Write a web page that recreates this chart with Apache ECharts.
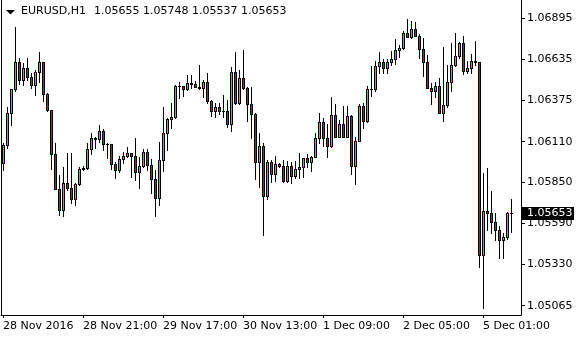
<!DOCTYPE html>
<html>
<head>
<meta charset="utf-8">
<style>
html,body{margin:0;padding:0;background:#fff;}
#chart{width:580px;height:340px;}
</style>
<script src="https://cdn.jsdelivr.net/npm/echarts@6/dist/echarts.min.js"></script>
</head>
<body>
<div id="chart"></div>
<script>
// EURUSD H1 bars, 28 Nov 2016 01:00 -> 5 Dec 2016 08:00
const opens = [
1.05973,1.06089,1.06291,1.06444,1.06616,1.06503,1.06578,1.06524,1.06471,1.06556,
1.06616,1.06412,1.06312,1.06030,1.05809,1.05675,1.05845,1.05813,1.05743,1.05841,
1.05934,1.05945,1.06064,1.06132,1.06125,1.06180,1.06095,1.06093,1.05966,1.05930,
1.05998,1.06019,1.06036,1.06021,1.05919,1.05955,1.06043,1.05962,1.05871,1.05749,
1.05994,1.06164,1.06253,1.06266,1.06465,1.06463,1.06444,1.06482,1.06476,1.06460,
1.06450,1.06488,1.06371,1.06308,1.06329,1.06308,1.06305,1.06221,1.06552,1.06355,
1.06514,1.06454,1.06348,1.06285,1.05983,1.06083,1.05766,1.05979,1.05902,1.05966,
1.05955,1.05861,1.05955,1.05893,1.05934,1.05947,1.06004,1.05983,1.06015,1.06132,
1.06234,1.06132,1.06085,1.06280,1.06142,1.06221,1.06142,1.06274,1.05957,1.06115,
1.06338,1.06244,1.06444,1.06448,1.06593,1.06616,1.06582,1.06616,1.06635,1.06694,
1.06705,1.06801,1.06779,1.06826,1.06786,1.06699,1.06620,1.06454,1.06435,1.06465,
1.06295,1.06344,1.06492,1.06599,1.06656,1.06741,1.06562,1.06582,1.06624,1.06615,
1.05388,1.05669,1.05658,1.05597,1.05547,1.05484,1.05505,1.05655
];
const highs = [
1.06100,1.06333,1.06448,1.06841,1.06642,1.06610,1.06642,1.06546,1.06567,1.06684,
1.06620,1.06422,1.06315,1.06100,1.05898,1.05951,1.06036,1.06036,1.05845,1.05951,
1.05955,1.06100,1.06164,1.06138,1.06217,1.06191,1.06102,1.06095,1.05983,1.06019,
1.06046,1.06078,1.06040,1.06132,1.06015,1.06062,1.06062,1.06000,1.05930,1.06110,
1.06333,1.06259,1.06355,1.06471,1.06492,1.06467,1.06535,1.06535,1.06499,1.06599,
1.06503,1.06546,1.06376,1.06355,1.06355,1.06408,1.06376,1.06584,1.06681,1.06567,
1.06694,1.06460,1.06458,1.06290,1.06164,1.06100,1.05994,1.05994,1.06019,1.05976,
1.05994,1.05989,1.05983,1.05989,1.06036,1.06006,1.06030,1.06017,1.06164,1.06291,
1.06259,1.06221,1.06397,1.06350,1.06248,1.06338,1.06338,1.06280,1.06138,1.06350,
1.06355,1.06463,1.06593,1.06624,1.06680,1.06635,1.06635,1.06690,1.06763,1.06726,
1.06817,1.06892,1.06879,1.06871,1.06796,1.06769,1.06663,1.06486,1.06492,1.06514,
1.06712,1.06599,1.06741,1.06805,1.06747,1.06784,1.06626,1.06669,1.06752,1.06618,
1.05909,1.05941,1.05796,1.05654,1.05575,1.05526,1.05660,1.05748
];
const lows = [
1.05930,1.06068,1.06217,1.06435,1.06478,1.06471,1.06503,1.06450,1.06408,1.06492,
1.06371,1.06305,1.05934,1.05807,1.05643,1.05637,1.05802,1.05718,1.05707,1.05834,
1.05930,1.05934,1.06032,1.06068,1.06110,1.06057,1.06006,1.05934,1.05877,1.05919,
1.05973,1.06015,1.05887,1.05866,1.05813,1.05951,1.05930,1.05781,1.05639,1.05707,
1.05925,1.06057,1.06196,1.06259,1.06387,1.06403,1.06440,1.06450,1.06456,1.06445,
1.06397,1.06355,1.06274,1.06269,1.06287,1.06269,1.06206,1.06180,1.06351,1.06351,
1.06444,1.06244,1.06134,1.05871,1.05820,1.05516,1.05745,1.05855,1.05860,1.05947,
1.05855,1.05855,1.05845,1.05877,1.05881,1.05883,1.05947,1.05925,1.06011,1.06100,
1.06085,1.06015,1.06078,1.06138,1.06138,1.06138,1.06138,1.05902,1.05839,1.06113,
1.06196,1.06238,1.06401,1.06433,1.06550,1.06546,1.06550,1.06599,1.06605,1.06652,
1.06699,1.06777,1.06771,1.06782,1.06642,1.06529,1.06450,1.06348,1.06393,1.06290,
1.06244,1.06333,1.06433,1.06593,1.06642,1.06541,1.06546,1.06550,1.06599,1.05310,
1.05049,1.05547,1.05526,1.05484,1.05367,1.05367,1.05488,1.05537
];
const closes = [
1.06089,1.06291,1.06444,1.06616,1.06503,1.06578,1.06524,1.06471,1.06556,1.06616,
1.06412,1.06312,1.06030,1.05809,1.05675,1.05845,1.05813,1.05743,1.05841,1.05934,
1.05945,1.06064,1.06132,1.06125,1.06180,1.06095,1.06093,1.05966,1.05930,1.05998,
1.06019,1.06036,1.06021,1.05919,1.05955,1.06043,1.05962,1.05871,1.05749,1.05994,
1.06164,1.06253,1.06266,1.06465,1.06463,1.06444,1.06482,1.06476,1.06460,1.06450,
1.06488,1.06371,1.06308,1.06329,1.06308,1.06305,1.06221,1.06552,1.06355,1.06514,
1.06454,1.06348,1.06285,1.05983,1.06083,1.05766,1.05979,1.05902,1.05966,1.05955,
1.05861,1.05955,1.05893,1.05934,1.05947,1.06004,1.05983,1.06015,1.06132,1.06234,
1.06132,1.06085,1.06280,1.06142,1.06221,1.06142,1.06274,1.05957,1.06115,1.06338,
1.06244,1.06444,1.06448,1.06593,1.06616,1.06582,1.06616,1.06635,1.06694,1.06705,
1.06801,1.06779,1.06826,1.06786,1.06699,1.06620,1.06454,1.06435,1.06465,1.06295,
1.06344,1.06492,1.06599,1.06656,1.06741,1.06562,1.06582,1.06624,1.06620,1.05388,
1.05669,1.05658,1.05597,1.05547,1.05484,1.05505,1.05654,1.05653
];
// time-axis labels, one every 20 bars
const timeLabels = ['28 Nov 2016','28 Nov 21:00','29 Nov 17:00','30 Nov 13:00','1 Dec 09:00','2 Dec 05:00','5 Dec 01:00'];
const labelEvery = 20;
// price-axis tick labels
const priceTicks = [1.05065,1.05330,1.05590,1.05850,1.06110,1.06375,1.06635,1.06895];
const lastPrice = 1.05653;
const symbolTitle = 'EURUSD,H1';
const ohlcTitle = '1.05655 1.05748 1.05537 1.05653';
const totalSlots = 130;

const FONT = 'DejaVu Sans';
const BULL = '#00ff00';
const BEAR = '#ff0000';
const categories = [];
for (let i = 0; i < totalSlots; i++) categories.push(String(i));
const bars = opens.map((o, i) => [i, o, closes[i], lows[i], highs[i]]);

function px(x, y, w, h, color, z2) {
  return {type: 'rect', z2: z2, shape: {x: x, y: y, width: w, height: h},
          style: {fill: color, stroke: null, lineWidth: 0}};
}

function renderCandle(params, api) {
  const i = api.value(0);
  const o = api.value(1), c = api.value(2), l = api.value(3), h = api.value(4);
  const pO = api.coord([i, o]);
  const pC = api.coord([i, c]);
  const pL = api.coord([i, l]);
  const pH = api.coord([i, h]);
  const col = Math.floor(pO[0]);
  const top = Math.round(Math.min(pO[1], pC[1]));
  const bot = Math.max(top, Math.round(Math.max(pO[1], pC[1])));
  const yHigh = Math.min(top, Math.round(pH[1]));
  const yLow = Math.max(bot, Math.round(pL[1]));
  const fill = c >= o ? BULL : BEAR;
  const kids = [];
  if (yHigh < top) kids.push(px(col, yHigh, 1, top - yHigh, '#000', 1));
  if (yLow > bot) kids.push(px(col, bot + 1, 1, yLow - bot, '#000', 1));
  const bh = bot - top + 1;
  kids.push(px(col - 1, top, 1, bh, '#000', 1));
  kids.push(px(col + 1, top, 1, bh, '#000', 1));
  kids.push(px(col, top, 1, 1, '#000', 1));
  kids.push(px(col, bot, 1, 1, '#000', 1));
  if (bh > 2) kids.push(px(col, top + 1, 1, bh - 2, fill, 3));
  return {type: 'group', children: kids};
}

function renderLastPrice(params, api) {
  const p = api.coord([api.value(0), api.value(1)]);
  const cs = params.coordSys;
  const x0 = cs.x + cs.width;
  const yc = Math.round(p[1]);
  return {
    type: 'group',
    children: [
      {type: 'rect', shape: {x: x0, y: yc - 6, width: 53, height: 13},
       style: {fill: '#000'}},
      {type: 'text', x: x0 + 6, y: yc + 0.5,
       style: {text: api.value(1).toFixed(5), fill: '#fff', verticalAlign: 'middle', align: 'left',
               font: '11px "DejaVu Sans"'}}
    ]
  };
}

const chart = echarts.init(document.getElementById('chart'), null, {renderer: 'canvas'});
chart.setOption({
  animation: false,
  backgroundColor: '#ffffff',
  title: [
    {text: symbolTitle, left: 21, top: 6, padding: 0,
     textStyle: {fontFamily: FONT, fontSize: 11, fontWeight: 'normal', color: '#000'}},
    {text: ohlcTitle, left: 94, top: 6, padding: 0,
     textStyle: {fontFamily: FONT, fontSize: 11, fontWeight: 'normal', color: '#000'}}
  ],
  graphic: [{
    type: 'polygon', shape: {points: [[6, 10], [15, 10], [10.5, 14.5]]},
    style: {fill: '#000'}
  }],
  grid: {left: 1, right: 59, top: 0, bottom: 25, containLabel: false},
  xAxis: {
    type: 'category',
    data: categories,
    boundaryGap: true,
    axisLine: {show: true, lineStyle: {color: '#000', width: 1}},
    axisTick: {show: true, alignWithLabel: true, length: 3,
      interval: (idx) => idx % labelEvery === 0 && idx / labelEvery < timeLabels.length,
      lineStyle: {color: '#000'}},
    axisLabel: {
      show: true,
      interval: (idx) => idx % labelEvery === 0 && idx / labelEvery < timeLabels.length,
      formatter: (v, idx) => timeLabels[idx / labelEvery] || '',
      align: 'left', margin: 6,
      color: '#000', fontFamily: FONT, fontSize: 11
    },
    splitLine: {show: false}
  },
  yAxis: [{
    type: 'value',
    position: 'right',
    min: 1.05006, max: 1.07013,
    scale: true,
    axisLine: {show: true, lineStyle: {color: '#000', width: 1}},
    axisTick: {show: true, length: 4, customValues: priceTicks, lineStyle: {color: '#000'}},
    axisLabel: {show: true, customValues: priceTicks, margin: 6,
      formatter: (v) => v.toFixed(5),
      color: '#000', fontFamily: FONT, fontSize: 11},
    splitLine: {show: false}
  }, {
    type: 'value',
    position: 'left',
    min: 1.05006, max: 1.07013,
    scale: true,
    axisLine: {show: true, lineStyle: {color: '#000', width: 1}},
    axisTick: {show: false},
    axisLabel: {show: false},
    splitLine: {show: false}
  }],
  series: [{
    type: 'custom',
    renderItem: renderCandle,
    data: bars,
    encode: {x: 0, y: [1, 2, 3, 4]},
    clip: true
  }, {
    type: 'custom',
    renderItem: renderLastPrice,
    data: [[opens.length - 1, lastPrice]],
    encode: {x: 0, y: 1},
    clip: false,
    z: 5
  }]
});
</script>
</body>
</html>
